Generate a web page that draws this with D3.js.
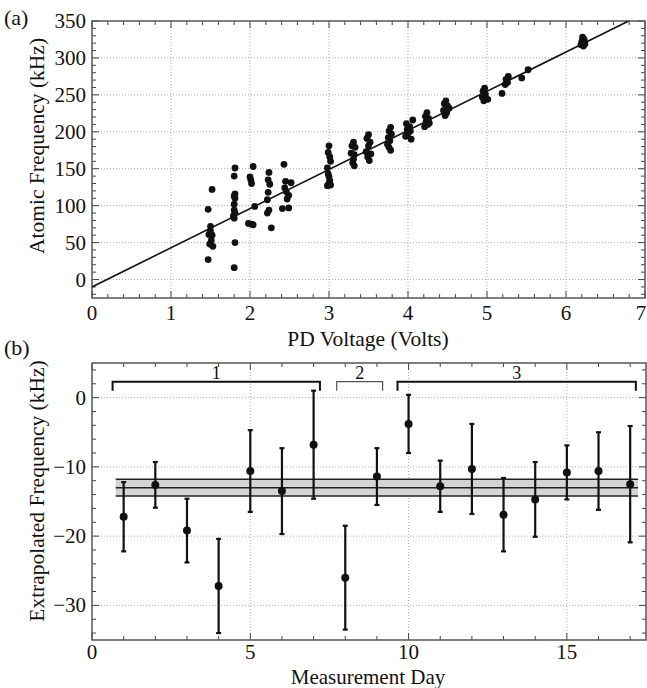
<!DOCTYPE html>
<html><head><meta charset="utf-8">
<script src="https://cdn.jsdelivr.net/npm/d3@7"></script>
<style>body{margin:0;background:#fff}svg{display:block}</style>
</head><body>
<svg id="c" width="647" height="688" font-family="'Liberation Serif', 'Times New Roman', 'DejaVu Serif', serif"></svg>
<script>
// ---------- Panel (a) data ----------
const voltage = [
 1.52,1.47,1.50,1.50,1.48,1.52,1.51,1.49,1.53,1.47,
 1.81,1.80,1.81,1.80,1.81,1.80,1.80,1.81,1.79,1.80,1.81,1.80,
 2.04,2.00,2.01,2.02,2.06,1.98,2.02,2.04,
 2.24,2.23,2.25,2.23,2.22,2.24,2.22,2.27,
 2.43,2.45,2.52,2.44,2.46,2.49,2.47,2.41,2.49,
 3.00,2.99,3.01,3.02,2.98,2.99,3.00,3.01,3.00,3.02,2.98,
 3.31,3.29,3.33,3.28,3.32,3.31,3.30,3.32,
 3.50,3.48,3.52,3.50,3.47,3.53,3.49,3.51,
 3.78,3.76,3.79,3.75,3.77,3.74,3.76,3.78,
 4.06,3.98,4.02,3.99,4.03,4.00,3.97,4.04,
 4.24,4.22,4.26,4.23,4.25,4.21,4.27,
 4.48,4.46,4.50,4.52,4.45,4.49,4.47,
 4.97,4.95,4.98,4.94,5.01,4.96,
 5.27,5.24,5.26,5.23,5.19,
 5.44,5.52,
 6.21,6.23,6.20,6.24,6.22,6.19
];
const atomicFreq = [
 122,95,72,66,61,60,53,48,45,27,
 151,140,116,113,110,102,94,90,86,83,50,16,
 153,139,135,130,99,76,75,74,
 145,135,129,118,108,94,90,70,
 156,133,131,124,119,114,109,96,97,
 181,172,166,160,151,143,139,134,130,128,127,
 186,181,179,171,169,163,158,154,
 196,191,186,181,173,170,166,161,
 206,201,197,192,188,183,179,175,
 216,211,207,203,201,198,194,190,
 226,221,218,214,210,207,212,
 242,238,235,232,229,226,222,
 259,255,251,247,244,242,
 275,271,267,264,252,
 273,284,
 328,325,322,319,316,318
];
const fitSlope = 53;      // kHz per volt
const fitIntercept = -10; // kHz
const xTicksA = [0,1,2,3,4,5,6,7];
const yTicksA = [0,50,100,150,200,250,300,350];

// ---------- Panel (b) data ----------
const days = [1,2,3,4,5,6,7,8,9,10,11,12,13,14,15,16,17];
const extrapFreq = [-17.2,-12.6,-19.2,-27.2,-10.6,-13.5,-6.8,-26.0,-11.4,-3.8,-12.8,-10.3,-16.9,-14.7,-10.8,-10.6,-12.5];
const extrapErr  = [5.0,3.3,4.6,6.8,5.9,6.2,7.8,7.5,4.1,4.2,3.7,6.5,5.3,5.4,3.9,5.6,8.4];
const meanFreq = -13.0, meanErr = 1.2, meanSpan = [0.75,17.25];
const groupLabels = ["1","2","3"];
const groupStart = [0.65,7.73,9.65];
const groupEnd   = [7.2,9.18,17.18];
const xTicksB = [0,5,10,15];
const yTicksB = [0,-10,-20,-30];

const svg = d3.select("#c");
const FS = 21, TS = 21.5, W = 647;

function frame(g, x, y, xMinorStep, yMinorStep, xTicks, yTicks, fmtY, xLabOff){
  const [x0,x1] = x.range(), [y0,y1] = y.range();
  g.append("g").selectAll("line").data(xTicks.filter(t=>t>x.domain()[0]&&t<x.domain()[1])).join("line")
    .attr("x1",d=>x(d)).attr("x2",d=>x(d)).attr("y1",y1).attr("y2",y0)
    .attr("stroke","#aaa").attr("stroke-width",1).attr("stroke-dasharray","1,2");
  g.append("g").selectAll("line").data(yTicks.filter(t=>t>y.domain()[0]&&t<y.domain()[1])).join("line")
    .attr("y1",d=>y(d)).attr("y2",d=>y(d)).attr("x1",x0).attr("x2",x1)
    .attr("stroke","#aaa").attr("stroke-width",1).attr("stroke-dasharray","1,2");
  const [dx0,dx1] = x.domain(), [dy0,dy1] = y.domain();
  const xm = d3.range(Math.ceil(dx0/xMinorStep)*xMinorStep, dx1+1e-9, xMinorStep);
  const ym = d3.range(Math.ceil(dy0/yMinorStep)*yMinorStep, dy1+1e-9, yMinorStep);
  const isMajor = (v,arr)=>arr.some(t=>Math.abs(t-v)<1e-6);
  const tk = g.append("g").attr("stroke","#444").attr("stroke-width",1);
  xm.forEach(v=>{ const L = isMajor(v,xTicks)?7:4;
    tk.append("line").attr("x1",x(v)).attr("x2",x(v)).attr("y1",y0).attr("y2",y0-L);
    tk.append("line").attr("x1",x(v)).attr("x2",x(v)).attr("y1",y1).attr("y2",y1+L); });
  ym.forEach(v=>{ const L = isMajor(v,yTicks)?7:4;
    tk.append("line").attr("y1",y(v)).attr("y2",y(v)).attr("x1",x0).attr("x2",x0+L);
    tk.append("line").attr("y1",y(v)).attr("y2",y(v)).attr("x1",x1).attr("x2",x1-L); });
  g.append("rect").attr("x",x0).attr("y",y1).attr("width",x1-x0).attr("height",y0-y1)
    .attr("fill","none").attr("stroke","#555").attr("stroke-width",1.5);
  g.append("g").selectAll("text").data(xTicks).join("text")
    .attr("x",d=>Math.min(x(d), W-6)).attr("y",y0+xLabOff).attr("text-anchor","middle").attr("font-size",FS).attr("fill","#111").text(d=>d);
  g.append("g").selectAll("text").data(yTicks).join("text")
    .attr("x",x0-6).attr("y",d=>y(d)+7).attr("text-anchor","end").attr("font-size",FS).attr("fill","#111").text(fmtY);
}

// ---------- Panel (a) ----------
const xa = d3.scaleLinear().domain([0,7]).range([92,645]);
const ya = d3.scaleLinear().domain([-25,350]).range([298,21]);
const ga = svg.append("g");
frame(ga, xa, ya, 0.2, 10, xTicksA, yTicksA, d=>d, 22);
ga.append("clipPath").attr("id","clipA").append("rect").attr("x",92).attr("y",21).attr("width",553).attr("height",277);
const vEnd = (350 - fitIntercept)/fitSlope;
ga.append("line").attr("clip-path","url(#clipA)")
  .attr("x1",xa(0)).attr("y1",ya(fitIntercept)).attr("x2",xa(vEnd)).attr("y2",ya(350))
  .attr("stroke","#111").attr("stroke-width",1.6);
ga.append("g").selectAll("circle").data(voltage).join("circle")
  .attr("cx",d=>xa(d)).attr("cy",(d,i)=>ya(atomicFreq[i])).attr("r",3.4).attr("fill","#111");
ga.append("text").attr("x",368).attr("y",346).attr("text-anchor","middle").attr("font-size",TS).attr("fill","#111").text("PD Voltage (Volts)");
ga.append("text").attr("transform","translate(44,146) rotate(-90)").attr("text-anchor","middle").attr("font-size",TS).attr("fill","#111").text("Atomic Frequency (kHz)");
ga.append("text").attr("x",4).attr("y",25).attr("font-size",22).attr("fill","#111").text("(a)");

// ---------- Panel (b) ----------
const xb = d3.scaleLinear().domain([0,17.5]).range([92,646]);
const yb = d3.scaleLinear().domain([-35,5]).range([640,363]);
const gb = svg.append("g");
frame(gb, xb, yb, 1, 2, xTicksB, yTicksB, d=> d<0 ? "\u2212"+(-d) : d, 19);
gb.append("rect").attr("x",xb(meanSpan[0])).attr("width",xb(meanSpan[1])-xb(meanSpan[0]))
  .attr("y",yb(meanFreq+meanErr)).attr("height",yb(meanFreq-meanErr)-yb(meanFreq+meanErr)).attr("fill","#d4d4d4");
[meanFreq+meanErr, meanFreq, meanFreq-meanErr].forEach(v=>{
  gb.append("line").attr("x1",xb(meanSpan[0])).attr("x2",xb(meanSpan[1])).attr("y1",yb(v)).attr("y2",yb(v))
    .attr("stroke","#222").attr("stroke-width",1.5);
});
const eb = gb.append("g").attr("stroke","#111").attr("stroke-width",2.2);
days.forEach((d,i)=>{
  const lo = extrapFreq[i]-extrapErr[i], hi = extrapFreq[i]+extrapErr[i];
  eb.append("line").attr("x1",xb(d)).attr("x2",xb(d)).attr("y1",yb(lo)).attr("y2",yb(hi));
  eb.append("line").attr("x1",xb(d)-2.5).attr("x2",xb(d)+2.5).attr("y1",yb(lo)).attr("y2",yb(lo));
  eb.append("line").attr("x1",xb(d)-2.5).attr("x2",xb(d)+2.5).attr("y1",yb(hi)).attr("y2",yb(hi));
});
gb.append("g").selectAll("circle").data(days).join("circle")
  .attr("cx",d=>xb(d)).attr("cy",(d,i)=>yb(extrapFreq[i])).attr("r",4).attr("fill","#111");
groupLabels.forEach((lab,i)=>{
  const a = xb(groupStart[i]), b = xb(groupEnd[i]);
  const yTop = yb(2.3), yBot = yb(1.0);
  const thin = i===1;
  gb.append("path").attr("d",`M${a},${yBot}V${yTop}H${b}V${yBot}`)
    .attr("fill","none").attr("stroke",thin?"#555":"#111").attr("stroke-width",thin?1.2:2);
  gb.append("text").attr("x",(a+b)/2).attr("y",yTop-3).attr("text-anchor","middle").attr("font-size",18).attr("fill","#111").text(lab);
});
gb.append("text").attr("x",368).attr("y",683.5).attr("text-anchor","middle").attr("font-size",21).attr("fill","#111").text("Measurement Day");
gb.append("text").attr("transform","translate(44,491) rotate(-90)").attr("text-anchor","middle").attr("font-size",TS).attr("fill","#111").text("Extrapolated Frequency (kHz)");
gb.append("text").attr("x",4).attr("y",355).attr("font-size",22).attr("fill","#111").text("(b)");
</script>
</body></html>
